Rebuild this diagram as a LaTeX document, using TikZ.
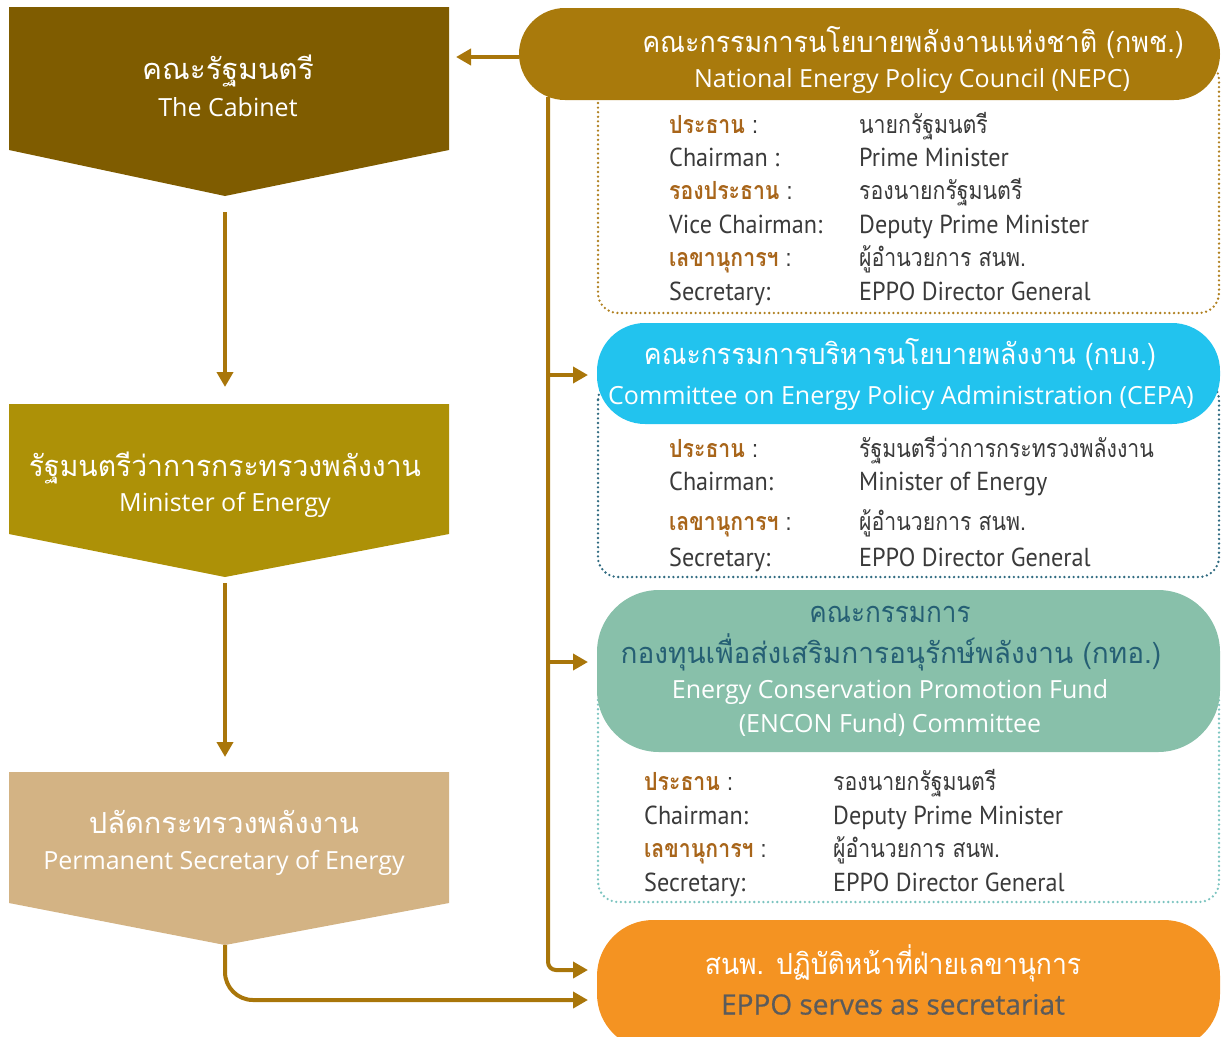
\documentclass[tikz,border=0pt]{standalone}
\usepackage{fontspec}
\usetikzlibrary{arrows.meta}
\newfontfamily\thF[Script=Thai]{Loma}
\newfontfamily\thC[Script=Thai,FakeStretch=0.85]{Loma}
\newfontfamily\enF{Open Sans}
\newfontfamily\enB[FakeBold=0.6]{Open Sans}
\newfontfamily\enC[FakeStretch=0.93]{PT Sans}
\definecolor{cab}{HTML}{7F5C00}
\definecolor{mini}{HTML}{AD9107}
\definecolor{perm}{HTML}{D3B384}
\definecolor{nepc}{HTML}{A97A0C}
\definecolor{arrc}{HTML}{A9760A}
\definecolor{cepa}{HTML}{22C3EE}
\definecolor{encon}{HTML}{88C0AA}
\definecolor{encontx}{HTML}{255F74}
\definecolor{eppo}{HTML}{F49322}
\definecolor{eppogray}{HTML}{5B5B5B}
\definecolor{thb}{HTML}{A8651A}
\definecolor{bodyg}{HTML}{3A3A3A}
\definecolor{dnepc}{HTML}{B08020}
\definecolor{dcepa}{HTML}{2F6A80}
\definecolor{dencon}{HTML}{7CC4C0}
\newcommand{\hs}[2]{\scalebox{#1}[1]{#2}}
\newcommand{\lab}[1]{\textcolor{thb}{\bfseries #1}}
\tikzset{
  arr/.style={draw=arrc, line width=4pt, -{Triangle[length=15pt,width=16pt]}},
  dotbox/.style={line width=2.6pt, dash pattern=on 0pt off 4.6pt, line cap=round, rounded corners=20pt},
  hdr/.style={inner sep=0pt, draw=none},
  ttl/.style={inner sep=0pt, text depth=0pt, anchor=center},
  row/.style={inner sep=0pt, text height=19pt, text depth=0pt, anchor=west, text=bodyg},
  thh/.style={text height=23pt, font=\thF\fontsize{29}{34}\selectfont},
  enh/.style={text height=19pt, font=\enF\fontsize{25}{30}\selectfont},
  thr/.style={font=\thC\fontsize{25}{30}\selectfont},
  enr/.style={font=\enC\fontsize{26}{30}\selectfont},
}
\begin{document}
\begin{tikzpicture}[x=1pt,y=-1pt]
\useasboundingbox (0,0) rectangle (1222,1036);
\clip (0,0) rectangle (1222,1036);

% ---------- left column shapes ----------
\fill[cab]  (9,7) -- (449,7) -- (449,150) -- (225,196) -- (9,150) -- cycle;
\fill[mini] (9,404) -- (449,404) -- (449,534) -- (225,577) -- (9,534) -- cycle;
\fill[perm] (9,772) -- (449,772) -- (449,903) -- (225,945) -- (9,903) -- cycle;
\coordinate (cabtip) at (225,196);
\coordinate (mintop) at (225,404);
\coordinate (mintip) at (225,577);
\coordinate (permtop) at (225,772);
\coordinate (permtip) at (225,945);
\coordinate (cabin) at (449,57);

\node[ttl,thh,text=white] (cabT) at (228,68) {\hs{1.03}{คณะรัฐมนตรี}};
\node[ttl,enh,text=white] (cabE) at (228,107) {The Cabinet};
\node[ttl,thh,text=white] (minT) at (225,465) {\hs{0.975}{รัฐมนตรีว่าการกระทรวงพลังงาน}};
\node[ttl,enh,text=white] (minE) at (225,502) {Minister of Energy};
\node[ttl,thh,text=white] (perT) at (224,822) {ปลัดกระทรวงพลังงาน};
\node[ttl,enh,text=white] (perE) at (224,860) {Permanent Secretary of Energy};

% ---------- dotted detail boxes ----------
\draw[dotbox,draw=dnepc]  (598,60) rectangle (1219,313);
\draw[dotbox,draw=dcepa]  (598,380) rectangle (1219,577);
\draw[dotbox,draw=dencon] (598,680) rectangle (1219,902);

% ---------- header pills ----------
\node[hdr,fill=nepc,minimum width=701pt,minimum height=92pt,rounded corners=46pt] (nepcH) at (869.5,54) {};
\node[hdr,fill=cepa,minimum width=623pt,minimum height=101pt,rounded corners=48pt] (cepaH) at (908.5,373.5) {};
\node[hdr,fill=encon,minimum width=623pt,minimum height=162pt,rounded corners=62pt] (enconH) at (908.5,671) {};
\node[hdr,fill=eppo,minimum width=623pt,minimum height=130pt,rounded corners=56pt] (eppoH) at (908.5,985) {};

\node[ttl,thh,text=white] (nepcT) at (913,41) {\hs{0.926}{คณะกรรมการนโยบายพลังงานแห่งชาติ (กพช.)}};
\node[ttl,enh,text=white] (nepcE) at (912,78) {National Energy Policy Council (NEPC)};
\node[ttl,thh,text=white] (cepaT) at (900,353) {\hs{0.92}{คณะกรรมการบริหารนโยบายพลังงาน (กบง.)}};
\node[ttl,enh,text=white] (cepaE) at (901,395) {Committee on Energy Policy Administration (CEPA)};
\node[ttl,thh,text=encontx] (enconT1) at (890,611) {\hs{0.9}{คณะกรรมการ}};
\node[ttl,thh,text=encontx] (enconT2) at (891,652) {\hs{0.965}{กองทุนเพื่อส่งเสริมการอนุรักษ์พลังงาน (กทอ.)}};
\node[ttl,enh,text=white] (enconE1) at (890,689) {Energy Conservation Promotion Fund};
\node[ttl,enh,text=white] (enconE2) at (890,723) {(ENCON Fund) Committee};
\node[ttl,thh,text=white] (eppoT) at (893,963) {\hs{0.917}{สนพ. ปฏิบัติหน้าที่ฝ่ายเลขานุการ}};
\node[ttl,text height=21pt,text=eppogray,font=\enB\fontsize{28}{32}\selectfont] (eppoE) at (893,1004) {EPPO serves as secretariat};

% ---------- NEPC rows ----------
\node[row,thr] (n1a) at (669,124) {\lab{ประธาน} :};
\node[row,thr] (n1b) at (859,124) {นายกรัฐมนตรี};
\node[row,enr] (n2a) at (669,157) {Chairman :};
\node[row,enr] (n2b) at (859,157) {Prime Minister};
\node[row,thr] (n3a) at (669,190) {\lab{รองประธาน} :};
\node[row,thr] (n3b) at (859,190) {รองนายกรัฐมนตรี};
\node[row,enr] (n4a) at (669,224) {Vice Chairman:};
\node[row,enr] (n4b) at (859,224) {Deputy Prime Minister};
\node[row,thr] (n5a) at (669,257) {\lab{เลขานุการฯ} :};
\node[row,thr] (n5b) at (859,257) {ผู้อำนวยการ สนพ.};
\node[row,enr] (n6a) at (669,291) {Secretary:};
\node[row,enr] (n6b) at (859,291) {EPPO Director General};

% ---------- CEPA rows ----------
\node[row,thr] (c1a) at (669,448) {\lab{ประธาน} :};
\node[row,thr] (c1b) at (859,448) {รัฐมนตรีว่าการกระทรวงพลังงาน};
\node[row,enr] (c2a) at (669,481) {Chairman:};
\node[row,enr] (c2b) at (859,481) {Minister of Energy};
\node[row,thr] (c3a) at (669,521) {\lab{เลขานุการฯ} :};
\node[row,thr] (c3b) at (859,521) {ผู้อำนวยการ สนพ.};
\node[row,enr] (c4a) at (669,557) {Secretary:};
\node[row,enr] (c4b) at (859,557) {EPPO Director General};

% ---------- ENCON rows ----------
\node[row,thr] (e1a) at (644,781) {\lab{ประธาน} :};
\node[row,thr] (e1b) at (833,781) {รองนายกรัฐมนตรี};
\node[row,enr] (e2a) at (644,815) {Chairman:};
\node[row,enr] (e2b) at (833,815) {Deputy Prime Minister};
\node[row,thr] (e3a) at (644,848) {\lab{เลขานุการฯ} :};
\node[row,thr] (e3b) at (833,848) {ผู้อำนวยการ สนพ.};
\node[row,enr] (e4a) at (644,882) {Secretary:};
\node[row,enr] (e4b) at (833,882) {EPPO Director General};

% ---------- connectors ----------
\draw[arr,shorten <=16pt,shorten >=17pt] (cabtip) -- (mintop);
\draw[arr,shorten <=6pt,shorten >=15pt] (mintip) -- (permtop);
\draw[arr,shorten >=7pt] (nepcH.west |- cabin) -- (cabin);
\coordinate (trunk) at (548,97);
\coordinate (cepaIn) at (597,375);
\coordinate (enconIn) at (597,662);
\coordinate (eppoIn1) at (597,970);
\coordinate (eppoIn2) at (597,1000);
\draw[arr,rounded corners=8pt,shorten >=9pt] (trunk) |- (eppoIn1);
\draw[arr,shorten >=9pt] (trunk |- cepaIn) -- (cepaIn);
\draw[arr,shorten >=9pt] (trunk |- enconIn) -- (enconIn);
\draw[arr,rounded corners=28pt,shorten >=9pt] (permtip) |- (eppoIn2);
\end{tikzpicture}
\end{document}
